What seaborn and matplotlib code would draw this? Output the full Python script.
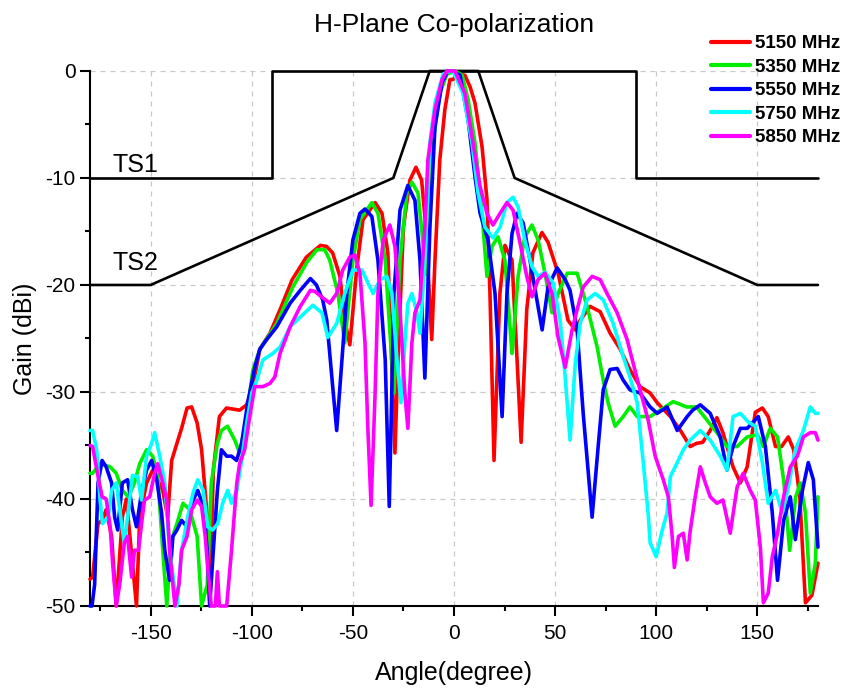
import matplotlib
matplotlib.use("Agg")
import matplotlib.pyplot as plt
import seaborn as sns
from matplotlib.ticker import MultipleLocator

red_ang = [-180, -178.7, -177.7, -176, -174, -172, -169.3, -167, -164, -162, -159.6, -157, -155.4,
           -152, -149, -144, -141.6, -139.6, -137, -134.7, -132, -129.7, -127, -124.8, -122, -120.8,
           -119, -116, -112.5, -106, -102.5, -99.5, -96, -91, -86, -80, -73, -66, -63, -60, -56.4,
           -54, -51.5, -48, -45, -39, -35.6, -32.7, -29.2, -27.7, -25, -21.8, -18.8, -16, -13.9, -11,
           -9.4, -7, -4.5, -2, -0.5, 2, 5.4, 8, 10.4, 13.9, 16.3, 17.8, 19.8, 22.7, 25.2, 28.7, 31.2,
           33.2, 36, 39, 43.5, 46.5, 51.5, 56.4, 60, 62.4, 67.3, 72.3, 77.2, 82.2, 87, 92, 97, 100.5,
           107, 112, 116.8, 120, 123, 126.7, 130, 133, 138, 141.6, 145, 149, 152.5, 155.4, 159, 162,
           165.3, 168, 171, 173.8, 177, 180]
red_gain = [-47.5, -47.3, -45.4, -42.3, -42, -41, -43.5, -50, -41.7, -40, -44.8, -50, -41.7,
            -38.5, -37.3, -39.2, -41.7, -36.4, -34.8, -33.4, -31.5, -31.4, -32.9, -35.4, -41.7, -49.5,
            -37.3, -32.3, -31.5, -31.7, -31.2, -29.5, -26, -24.5, -22.3, -19.5, -17.4, -16.3, -16.4, -17, -19.2,
            -23.3, -25.6, -18.3, -13.9, -12.3, -13.3, -17, -35.7, -27, -14.6, -10.2, -9, -10.2, -14.6, -25.1,
            -17.7, -8.3, -3.6, -0.8, -0.8, -0.3, -0.4, -1.5, -3, -7.1, -12, -20.8, -36.4, -20.8, -16.3, -17.7, -27,
            -34.7, -22.3, -17, -15.1, -16, -18.9, -23.3, -24.2, -23.3, -22, -22.5, -24.5, -26, -27.9, -29.5, -30.1, -31,
            -32.3, -33.6, -35.1, -34.8, -34.7, -33.6, -32.4, -33.8, -37, -38.5, -37, -31.9, -31.5, -32.3, -35.1, -35.1,
            -34.2, -35.4, -39.8, -49.7, -49, -46]

green_ang = [-180, -178.7, -175, -170, -167, -164, -161, -158, -155.4, -152, -149, -146.5, -144, -142,
             -140, -137, -134, -130.7, -127, -124.8, -122, -120, -117, -115, -112, -108.4, -106, -102.5,
             -99.5, -96, -87.6, -79.7, -72.8, -67.8, -63.9, -61.4, -57.4, -54, -50, -46.5, -40.6, -37.6,
             -34, -29.7, -26.7, -23.3, -20.8, -17.8, -15.3, -14, -12.5, -10.4, -7, -3.5, 0.5, 4, 7, 10.4,
             12.9, 14.4, 16.3, 18.8, 21.8, 25.2, 28.7, 31.7, 35, 38.6, 41.6, 45, 48.5, 51.5, 56, 60.9,
             65.8, 70.8, 73.8, 76.2, 79.7, 83.7, 87, 90.6, 97, 102, 108.4, 115, 120, 125, 130, 135, 140,
             145, 150, 153, 156.4, 160, 163, 166, 169, 171.3, 173.8, 176.2, 178.7, 180]
green_gain = [-37.6, -37.6, -36.7, -37, -37.6, -39.2, -39.8, -38.5, -36.7, -35.4, -36, -37.9, -44.8, -50,
              -44, -42.3, -40.4, -41, -43.5, -50, -48, -38.5, -34.8, -33.6, -33.2, -34.5, -35.7, -32.3,
              -28, -26, -23.6, -20.2, -17.9, -16.7, -16.7, -17.7, -20.8, -25.4, -17.7, -13.9, -12.3, -13.3,
              -17.7, -30.1, -17.7, -11.4, -10.4, -11.4, -16.1, -19, -14, -6.7, -2.1, -0.3, 0, -0.4, -2.7, -6.7,
              -11.4, -14.6, -19.2, -16.4, -15.5, -17.7, -26.4, -19.2, -15.5, -14.4, -15.8, -18.9, -22.6, -20.8, -18.9, -18.9,
              -22, -25.8, -28.9, -31, -33.2, -32.3, -31.4, -32.3, -32.3, -31.7, -30.9, -31.4, -31.4, -32.6, -33.8, -35.1, -35.1,
              -34.2, -34, -35.1, -33.4, -34.2, -38.2, -44.8, -39.8, -38.5, -41.3, -48.8, -46, -39.8]

blue_ang = [-180, -179, -177.7, -176, -174, -172, -169.3, -167.8, -166.3, -164, -161.4, -159, -157,
            -154.5, -152, -149.5, -147, -144.6, -143, -140.6, -139, -137, -134.7, -132, -129, -126.7,
            -124, -122, -120.8, -119, -117, -115, -112.4, -110, -107.5, -105, -102, -98.5, -96, -92.6,
            -87.6, -81, -76, -71, -68, -64.9, -62.9, -60.4, -58, -55.4, -53, -50, -46.5, -44, -40.6,
            -37.6, -34, -32, -29.7, -26.7, -22.8, -19.3, -16.8, -14.4, -11.9, -9.4, -5.9, -3, -1, 3, 7,
            10.4, 12.9, 16.8, 20.3, 23.8, 26.2, 28.7, 31.2, 34.2, 37.6, 41, 43.6, 46.5, 51, 55, 57.4,
            60.9, 63.9, 68.3, 71.3, 73.8, 77.2, 80.7, 83.7, 87, 92, 97, 100.5, 105.4, 110.4, 115.3, 118,
            121.8, 126.7, 131.7, 135, 138, 141.6, 145, 150.5, 154, 157.4, 160, 163, 166.3, 168.8, 172.3,
            175.2, 177.7, 180]
blue_gain = [-50, -50, -48, -38.5, -36.4, -37, -38.5, -41.7, -42.9, -38.5, -38.2, -41, -42.6,
             -39.4, -37.3, -36.4, -38.2, -41.3, -44.8, -47.6, -43.5, -42.9, -42, -42.6, -40.1, -39.2,
             -40.7, -44.8, -50, -44.8, -39.2, -35.4, -36, -36, -36.4, -34.8, -31, -27.7, -26, -25.1,
             -23.9, -21.7, -20.5, -19.4, -20, -21.4, -23.3, -28.6, -33.6, -27, -20.8, -15.8, -13.3, -12.9, -13.6,
             -17.7, -27, -40.7, -20.8, -13, -10.7, -12.1, -17.7, -28.7, -14.6, -5.2, -1.1, 0, 0, -0.4, -4.6,
             -9.9, -13.3, -15.8, -20.8, -32.3, -20.8, -15.2, -13.3, -14.2, -17.7, -21.4, -24.2, -20.2, -18.4, -19.5, -20.5,
             -24.2, -32, -41.7, -35.1, -29.8, -27.9, -27.8, -28.9, -29.8, -30.1, -31.4, -32, -31.4, -33.6, -32.3, -31.7,
             -31.2, -32, -34.2, -37.3, -35.1, -33.4, -33.4, -32.3, -35.1, -41.3, -47.6, -42, -39.8, -43.8, -39.2,
             -36.6, -38.2, -44.5]

cyan_ang = [-180, -178.7, -176.7, -175, -173.8, -171, -169.3, -167, -164.4, -163, -160.4, -159, -156.4,
            -154.5, -152, -149.5, -148, -145.5, -143, -140.6, -137, -134.7, -131.7, -129, -126.7, -124,
            -121.8, -119.3, -116.8, -114.4, -111.9, -110, -107.4, -105, -102.5, -100, -97.5, -94.5, -89.6,
            -86, -81, -76, -69.8, -65.3, -62.4, -58, -54, -50, -45.5, -42.6, -40, -36.6, -33.2, -30.7,
            -28.2, -26.2, -24.3, -22.8, -20.8, -18.3, -16.8, -14.4, -11.9, -9.4, -5.4, -2, -0.5, 4.5, 8.9,
            11.9, 15.3, 19.3, 22.8, 26.2, 29.2, 31.7, 35, 38.6, 41.6, 45, 49, 52.5, 55, 57.4, 60, 62.4,
            65.8, 69.8, 73.8, 78.7, 83.7, 87, 90.6, 93.6, 96, 97, 100, 103, 105.4, 107, 110.4, 113.4, 116.8,
            121.8, 126.7, 131.7, 135, 138, 141.6, 145.5, 149, 152.5, 155.4, 159, 162.4, 165.3, 168.8, 172.8,
            176.2, 178.7, 180]
cyan_gain = [-33.6, -33.6, -35.4, -40.1, -42.3, -41.7, -39.2, -38.5, -42.3, -44.1, -40.1, -37.8, -37.9,
             -40.1, -36, -34.8, -33.8, -36, -38.5, -44.8, -50, -44.8, -41.7, -39.4, -38.2, -39.2,
             -42.6, -42.9, -42.3, -40.4, -39.2, -40.4, -39.2, -36.4, -32.9, -30.1, -28.9, -27, -26.4,
             -25.8, -23.9, -23, -21.9, -22.6, -24.9, -23.6, -20.8, -18.6, -18.6, -19.8, -20.8, -19.5, -19.2, -20.8,
             -27, -31, -25.4, -21.7, -20.8, -22.6, -24.5, -17.7, -6.7, -3, -0.3, 0, 0, -2.1, -6.7,
             -11.4, -14.6, -15.6, -14.6, -12.3, -11.8, -12.7, -15.8, -18.3, -19.2, -18.8, -19.8, -23.3, -28.6, -34.5, -27.3, -23.6,
             -21.4, -20.8, -21.4, -23.6, -26.7, -28.6, -31, -36.6, -41.3, -44.1, -45.4, -42.9, -41.3, -37.9, -36.6, -35.4, -34.5,
             -33.6, -34.5, -36, -37.3, -32.3, -32, -32.8, -33.2, -36.6, -40.4, -39.2, -41.3, -38.9, -35.4, -33.6,
             -31.4, -32, -32]

magenta_ang = [-180, -178.7, -176, -174, -172, -170, -168.8, -167, -165.3, -163, -161.4, -159.4, -158,
               -156, -154.5, -153, -150.5, -148, -146.5, -144, -142, -140.6, -138, -136, -134.7, -132,
               -129.7, -127, -124.8, -123, -121.8, -120, -118, -117, -116, -112.4, -110, -107.4, -106,
               -103.5, -101, -98.5, -94.5, -91, -88.6, -86, -81, -76, -71, -68.8, -64.9, -61.4, -58, -55,
               -51.5, -49, -46.5, -44, -42.6, -41, -39, -37.6, -35, -31.7, -29.2, -26.7, -24.3, -22.8,
               -20.8, -19.3, -16.8, -14.4, -12.9, -9.4, -5.9, -3.5, 0.5, 5.4, 9.4, 12.9, 16.3, 19.3, 22.8,
               26.2, 29.2, 32.7, 36, 38.6, 41.6, 45, 48.5, 51.5, 55, 58.4, 60.9, 63.9, 68.3, 72.3, 75.7,
               80.7, 85.6, 88.6, 92, 96, 99.5, 103.5, 106, 107.9, 109, 111, 113.4, 115.3, 116.8, 119.3,
               121.8, 124.3, 126.7, 130, 133, 136.6, 140, 143, 146.5, 149, 151.5, 153, 155.4, 157.4, 160,
               163, 166.3, 169.8, 172.8, 176.2, 178.7, 180]
magenta_gain = [-35, -35.1, -37.9, -39.8, -40, -42.6, -46, -50, -48, -44.1, -43.5, -47.3, -44.8,
                -44.8, -42.3, -40.1, -39.8, -37.6, -36.7, -38.5, -40.1, -44.8, -50, -48, -44.8, -43.5,
                -41, -40.1, -40.7, -43.5, -46.4, -50, -50, -46.8, -50, -50, -44.8, -38.5, -36.7,
                -35.4, -32.3, -29.5, -29.5, -29.2, -28.6, -26.4, -23.9, -22, -20.5, -20.6, -21.2, -21.7, -20.8, -18.6,
                -17.4, -17.2, -18.9, -25.4, -33.3, -40.6, -30.1, -20.8, -15.8, -14.4, -16.4, -22.3, -30.1, -33.4,
                -25.4, -22.6, -21.4, -14.6, -8.3, -3.6, -0.8, 0, 0, -2.1, -6.7, -10.8, -13.3, -14.4, -13.3,
                -12.3, -13, -16.1, -19.2, -21.1, -19.5, -18.9, -20.8, -24.9, -27.7, -24.2, -22.3, -20.2, -19.2, -19.5, -20.8,
                -22.6, -25.1, -27.3, -29.8, -32.6, -36, -38.2, -39.8, -43.5, -46.4, -43.5, -43.2, -45.7, -43, -39.8,
                -37, -38.5, -39.8, -40.4, -40.1, -43.2, -38.9, -37.6, -39.2, -40.1, -44.5, -49.7, -48.8, -45.4, -43.2,
                -39.8, -37, -36, -34.2, -33.8, -33.8, -34.5]

series_names = ["5150 MHz", "5350 MHz", "5550 MHz", "5750 MHz", "5850 MHz"]
series_colors = ["#FF0000", "#00EE00", "#0000FF", "#00FFFF", "#FF00FF"]

# Spectrum masks
ts1_ang = [-180, -90, -90, 90, 90, 180]
ts1_gain = [-10, -10, 0, 0, -10, -10]
ts2_ang = [-180, -150, -30, -12, 12, 30, 150, 180]
ts2_gain = [-20, -20, -10, 0, 0, -10, -20, -20]

sns.set_theme(style="white")
plt.rcParams['font.family'] = ['Liberation Sans', 'DejaVu Sans']
plt.rcParams['axes.unicode_minus'] = False
plt.rcParams['text.color'] = 'black'
plt.rcParams['axes.labelcolor'] = 'black'

fig = plt.figure(figsize=(8.48, 6.89), dpi=100)
ax = fig.add_axes([0.1061, 0.1205, 0.8585, 0.7765])

ax.plot(ts1_ang, ts1_gain, color='black', lw=1.9, clip_on=False, zorder=2)
ax.plot(ts2_ang, ts2_gain, color='black', lw=1.9, clip_on=False, zorder=2)

all_ang = [red_ang, green_ang, blue_ang, cyan_ang, magenta_ang]
all_gain = [red_gain, green_gain, blue_gain, cyan_gain, magenta_gain]
for ang, gain, name, col in zip(all_ang, all_gain, series_names, series_colors):
    sns.lineplot(x=ang, y=gain, color=col, lw=2.6, label=name, ax=ax,
                 sort=False, estimator=None, clip_on=False, zorder=3,
                 solid_joinstyle='round', solid_capstyle='round')

ax.text(-169, -9.4, "TS1", fontsize=18, ha='left', va='baseline', color='black')
ax.text(-169, -18.6, "TS2", fontsize=18, ha='left', va='baseline', color='black')

ax.set_xlim(-180, 180)
ax.set_ylim(-50, 0)
ax.xaxis.set_major_locator(MultipleLocator(50))
ax.xaxis.set_minor_locator(MultipleLocator(25))
ax.yaxis.set_major_locator(MultipleLocator(10))
ax.yaxis.set_minor_locator(MultipleLocator(5))

ax.grid(True, which='major', color='#c8c8c8', linestyle=(0, (4, 4)), linewidth=0.9)
ax.set_axisbelow(True)
for side in ['top', 'right']:
    ax.spines[side].set_visible(False)
for side in ['left', 'bottom']:
    ax.spines[side].set_color('black')
    ax.spines[side].set_linewidth(1.5)

ax.tick_params(which='major', direction='out', length=7, width=1.5, colors='black',
               labelcolor='black', labelsize=15, left=True, bottom=True)
ax.tick_params(which='minor', direction='out', length=3.6, width=1.5, colors='black',
               left=True, bottom=True)
ax.tick_params(axis='x', which='major', pad=6)

ax.set_xlabel("Angle(degree)", fontsize=18, labelpad=13)
ax.set_ylabel("Gain (dBi)", fontsize=18, labelpad=6)
ax.set_title("H-Plane Co-polarization", fontsize=19, pad=28)

handles, labels = ax.get_legend_handles_labels()
if ax.get_legend() is not None:
    ax.get_legend().remove()
leg = fig.legend(handles, labels, loc='upper left', bbox_to_anchor=(711 / 848, 1 - 35 / 689),
                 frameon=False, prop={'weight': 'bold', 'size': 13.5}, handlelength=2.1,
                 handletextpad=0.25, labelspacing=0.34, borderpad=0, borderaxespad=0)
for line in leg.get_lines():
    line.set_linewidth(3.0)

fig.savefig("out.png", dpi=100)
